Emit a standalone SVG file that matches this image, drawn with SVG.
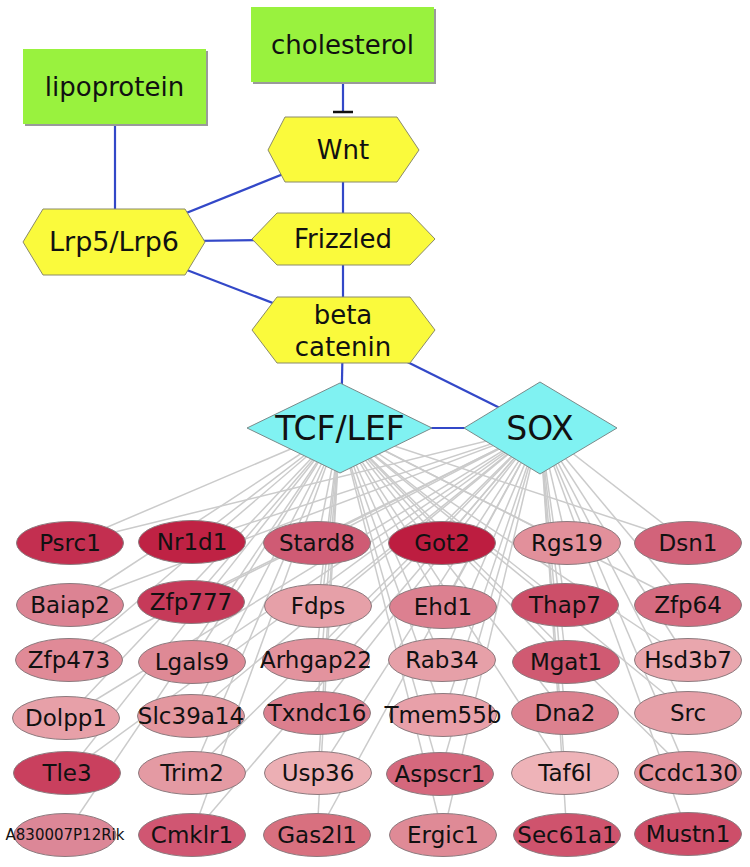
<svg xmlns="http://www.w3.org/2000/svg" width="750" height="867" viewBox="0 0 750 867">
<style>
.g{stroke:#cbcbcb;stroke-width:1.5;fill:none}
.b{stroke:#3348c8;stroke-width:2.2;fill:none}
.rect{fill:#99f23e}
.sh{fill:#9a9a9a}
.hex{fill:#fafa3c;stroke:#8a8a6a;stroke-width:1}
.dia{fill:#80f2f2;stroke:#7a8a8a;stroke-width:1}
.el{stroke:#8c7a7e;stroke-width:1}
text{font-family:"DejaVu Sans","Liberation Sans",sans-serif;fill:#111;text-anchor:middle}
.t23{font-size:23px}
.t26{font-size:26px}
.t33{font-size:33px}
</style>
<rect width="750" height="867" fill="#ffffff"/>
<g id="connectors">
<g id="gray-edges">
<line class="g" x1="340" y1="428" x2="70" y2="543"/><line class="g" x1="540" y1="428" x2="70" y2="543"/>
<line class="g" x1="340" y1="428" x2="192" y2="542"/><line class="g" x1="540" y1="428" x2="192" y2="542"/>
<line class="g" x1="340" y1="428" x2="317" y2="543"/><line class="g" x1="540" y1="428" x2="317" y2="543"/>
<line class="g" x1="340" y1="428" x2="442" y2="543"/><line class="g" x1="540" y1="428" x2="442" y2="543"/>
<line class="g" x1="340" y1="428" x2="567" y2="543"/><line class="g" x1="540" y1="428" x2="567" y2="543"/>
<line class="g" x1="340" y1="428" x2="688" y2="543"/><line class="g" x1="540" y1="428" x2="688" y2="543"/>
<line class="g" x1="340" y1="428" x2="70" y2="605"/><line class="g" x1="540" y1="428" x2="70" y2="605"/>
<line class="g" x1="340" y1="428" x2="191" y2="602"/><line class="g" x1="540" y1="428" x2="191" y2="602"/>
<line class="g" x1="340" y1="428" x2="318" y2="606"/><line class="g" x1="540" y1="428" x2="318" y2="606"/>
<line class="g" x1="340" y1="428" x2="443" y2="607"/><line class="g" x1="540" y1="428" x2="443" y2="607"/>
<line class="g" x1="340" y1="428" x2="565" y2="605"/><line class="g" x1="540" y1="428" x2="565" y2="605"/>
<line class="g" x1="340" y1="428" x2="688" y2="605"/><line class="g" x1="540" y1="428" x2="688" y2="605"/>
<line class="g" x1="340" y1="428" x2="69" y2="660"/><line class="g" x1="540" y1="428" x2="69" y2="660"/>
<line class="g" x1="340" y1="428" x2="192" y2="662"/><line class="g" x1="540" y1="428" x2="192" y2="662"/>
<line class="g" x1="340" y1="428" x2="316" y2="660"/><line class="g" x1="540" y1="428" x2="316" y2="660"/>
<line class="g" x1="340" y1="428" x2="442" y2="660"/><line class="g" x1="540" y1="428" x2="442" y2="660"/>
<line class="g" x1="340" y1="428" x2="566" y2="662"/><line class="g" x1="540" y1="428" x2="566" y2="662"/>
<line class="g" x1="340" y1="428" x2="688" y2="660"/><line class="g" x1="540" y1="428" x2="688" y2="660"/>
<line class="g" x1="340" y1="428" x2="66" y2="718"/><line class="g" x1="540" y1="428" x2="66" y2="718"/>
<line class="g" x1="340" y1="428" x2="191" y2="716"/><line class="g" x1="540" y1="428" x2="191" y2="716"/>
<line class="g" x1="340" y1="428" x2="317" y2="713"/><line class="g" x1="540" y1="428" x2="317" y2="713"/>
<line class="g" x1="340" y1="428" x2="443" y2="715"/><line class="g" x1="540" y1="428" x2="443" y2="715"/>
<line class="g" x1="340" y1="428" x2="565" y2="713"/><line class="g" x1="540" y1="428" x2="565" y2="713"/>
<line class="g" x1="340" y1="428" x2="688" y2="713"/><line class="g" x1="540" y1="428" x2="688" y2="713"/>
<line class="g" x1="340" y1="428" x2="67" y2="773"/><line class="g" x1="540" y1="428" x2="67" y2="773"/>
<line class="g" x1="340" y1="428" x2="192" y2="773"/><line class="g" x1="540" y1="428" x2="192" y2="773"/>
<line class="g" x1="340" y1="428" x2="318" y2="773"/><line class="g" x1="540" y1="428" x2="318" y2="773"/>
<line class="g" x1="340" y1="428" x2="440" y2="774"/><line class="g" x1="540" y1="428" x2="440" y2="774"/>
<line class="g" x1="340" y1="428" x2="565" y2="773"/><line class="g" x1="540" y1="428" x2="565" y2="773"/>
<line class="g" x1="340" y1="428" x2="688" y2="773"/><line class="g" x1="540" y1="428" x2="688" y2="773"/>
<line class="g" x1="340" y1="428" x2="65" y2="835"/>
<line class="g" x1="340" y1="428" x2="192" y2="835"/><line class="g" x1="540" y1="428" x2="192" y2="835"/>
<line class="g" x1="340" y1="428" x2="317" y2="835"/><line class="g" x1="540" y1="428" x2="317" y2="835"/>
<line class="g" x1="340" y1="428" x2="443" y2="835"/><line class="g" x1="540" y1="428" x2="443" y2="835"/>
<line class="g" x1="540" y1="428" x2="567" y2="835"/>
<line class="g" x1="540" y1="428" x2="688" y2="834"/>
</g>
<g id="blue-edges">
<line class="b" x1="115" y1="124" x2="115" y2="209"/>
<line class="b" x1="114" y1="242" x2="343" y2="150"/>
<line class="b" x1="114" y1="242" x2="343" y2="239"/>
<line class="b" x1="114" y1="242" x2="343" y2="330"/>
<line class="b" x1="343" y1="150" x2="343" y2="239"/>
<line class="b" x1="343" y1="239" x2="343" y2="330"/>
<line class="b" x1="343" y1="330" x2="341" y2="428"/>
<line class="b" x1="343" y1="330" x2="540" y2="428"/>
<line class="b" x1="340" y1="428" x2="540" y2="428"/>
<line class="b" x1="343" y1="82" x2="343" y2="112"/>
<line x1="333" y1="112" x2="353" y2="112" stroke="#111" stroke-width="2.5"/>
</g>
</g>
<g id="lipoprotein"><rect class="sh" x="25" y="51" width="183" height="75"/><rect class="rect" x="23" y="49" width="183" height="75"/><text class="t26" x="114.5" y="96">lipoprotein</text></g>
<g id="cholesterol"><rect class="sh" x="253" y="9" width="183" height="75"/><rect class="rect" x="251" y="7" width="183" height="75"/><text class="t26" x="342.5" y="54">cholesterol</text></g>
<g id="Wnt"><polygon class="hex" points="268,150 285,117 397,117 419,150 397,182 285,182"/><text class="t26" x="343" y="159">Wnt</text></g>
<g id="Lrp5Lrp6"><polygon class="hex" points="23,242 43,209 185,209 205,242 185,275 43,275"/><text class="t26" x="114" y="251" style="font-size:27px">Lrp5/Lrp6</text></g>
<g id="Frizzled"><polygon class="hex" points="252,239 277,213 410,213 435,239 410,265 277,265"/><text class="t26" x="343" y="248">Frizzled</text></g>
<g id="betacatenin"><polygon class="hex" points="252,330 277,297 410,297 435,330 410,363 277,363"/><text class="t26" x="343" y="324">beta</text><text class="t26" x="343" y="356">catenin</text></g>
<g id="TCFLEF"><polygon class="dia" points="247,428 340,383 432,428 340,473"/><text class="t33" x="340" y="440">TCF/LEF</text></g>
<g id="SOX"><polygon class="dia" points="464,428 540,382 617,428 540,474"/><text class="t33" x="540" y="440">SOX</text></g>
<g id="Psrc1"><ellipse class="el" cx="70" cy="543" rx="53.5" ry="21.5" fill="#c32f50"/><text class="t23" x="70" y="551">Psrc1</text></g>
<g id="Nr1d1"><ellipse class="el" cx="192" cy="542" rx="53.5" ry="21.5" fill="#bf2244"/><text class="t23" x="192" y="550">Nr1d1</text></g>
<g id="Stard8"><ellipse class="el" cx="317" cy="543" rx="53.5" ry="21.5" fill="#cf5b74"/><text class="t23" x="317" y="551">Stard8</text></g>
<g id="Got2"><ellipse class="el" cx="442" cy="543" rx="53.5" ry="21.5" fill="#bd1d40"/><text class="t23" x="442" y="551">Got2</text></g>
<g id="Rgs19"><ellipse class="el" cx="567" cy="543" rx="53.5" ry="21.5" fill="#e2909b"/><text class="t23" x="567" y="551">Rgs19</text></g>
<g id="Dsn1"><ellipse class="el" cx="688" cy="543" rx="53.5" ry="21.5" fill="#d2637a"/><text class="t23" x="688" y="551">Dsn1</text></g>
<g id="Baiap2"><ellipse class="el" cx="70" cy="605" rx="53.5" ry="21.5" fill="#dc8393"/><text class="t23" x="70" y="613">Baiap2</text></g>
<g id="Zfp777"><ellipse class="el" cx="191" cy="602" rx="53.5" ry="21.5" fill="#c63a59"/><text class="t23" x="191" y="610">Zfp777</text></g>
<g id="Fdps"><ellipse class="el" cx="318" cy="606" rx="53.5" ry="21.5" fill="#e6a0a8"/><text class="t23" x="318" y="614">Fdps</text></g>
<g id="Ehd1"><ellipse class="el" cx="443" cy="607" rx="53.5" ry="21.5" fill="#dc8090"/><text class="t23" x="443" y="615">Ehd1</text></g>
<g id="Thap7"><ellipse class="el" cx="565" cy="605" rx="53.5" ry="21.5" fill="#cc4f69"/><text class="t23" x="565" y="613">Thap7</text></g>
<g id="Zfp64"><ellipse class="el" cx="688" cy="605" rx="53.5" ry="21.5" fill="#d56b80"/><text class="t23" x="688" y="613">Zfp64</text></g>
<g id="Zfp473"><ellipse class="el" cx="69" cy="660" rx="53.5" ry="21.5" fill="#e08a97"/><text class="t23" x="69" y="668">Zfp473</text></g>
<g id="Lgals9"><ellipse class="el" cx="192" cy="662" rx="53.5" ry="21.5" fill="#de8995"/><text class="t23" x="192" y="670">Lgals9</text></g>
<g id="Arhgap22"><ellipse class="el" cx="316" cy="660" rx="53.5" ry="21.5" fill="#e3939e"/><text class="t23" x="316" y="668">Arhgap22</text></g>
<g id="Rab34"><ellipse class="el" cx="442" cy="660" rx="53.5" ry="21.5" fill="#e6a0a8"/><text class="t23" x="442" y="668">Rab34</text></g>
<g id="Mgat1"><ellipse class="el" cx="566" cy="662" rx="53.5" ry="21.5" fill="#d05a72"/><text class="t23" x="566" y="670">Mgat1</text></g>
<g id="Hsd3b7"><ellipse class="el" cx="688" cy="660" rx="53.5" ry="21.5" fill="#e9a6ad"/><text class="t23" x="688" y="668">Hsd3b7</text></g>
<g id="Dolpp1"><ellipse class="el" cx="66" cy="718" rx="53.5" ry="21.5" fill="#e7a0a8"/><text class="t23" x="66" y="726">Dolpp1</text></g>
<g id="Slc39a14"><ellipse class="el" cx="191" cy="716" rx="53.5" ry="21.5" fill="#e3979f"/><text class="t23" x="191" y="724">Slc39a14</text></g>
<g id="Txndc16"><ellipse class="el" cx="317" cy="713" rx="53.5" ry="21.5" fill="#dc7f8e"/><text class="t23" x="317" y="721">Txndc16</text></g>
<g id="Tmem55b"><ellipse class="el" cx="443" cy="715" rx="53.5" ry="21.5" fill="#e8a0a9"/><text class="t23" x="443" y="723">Tmem55b</text></g>
<g id="Dna2"><ellipse class="el" cx="565" cy="713" rx="53.5" ry="21.5" fill="#dc818f"/><text class="t23" x="565" y="721">Dna2</text></g>
<g id="Src"><ellipse class="el" cx="688" cy="713" rx="53.5" ry="21.5" fill="#e6a0a8"/><text class="t23" x="688" y="721">Src</text></g>
<g id="Tle3"><ellipse class="el" cx="67" cy="773" rx="53.5" ry="21.5" fill="#c9405e"/><text class="t23" x="67" y="781">Tle3</text></g>
<g id="Trim2"><ellipse class="el" cx="192" cy="773" rx="53.5" ry="21.5" fill="#e49aa3"/><text class="t23" x="192" y="781">Trim2</text></g>
<g id="Usp36"><ellipse class="el" cx="318" cy="773" rx="53.5" ry="21.5" fill="#ecafb4"/><text class="t23" x="318" y="781">Usp36</text></g>
<g id="Aspscr1"><ellipse class="el" cx="440" cy="774" rx="53.5" ry="21.5" fill="#d5687d"/><text class="t23" x="440" y="782">Aspscr1</text></g>
<g id="Taf6l"><ellipse class="el" cx="565" cy="773" rx="53.5" ry="21.5" fill="#eeb3b8"/><text class="t23" x="565" y="781">Taf6l</text></g>
<g id="Ccdc130"><ellipse class="el" cx="688" cy="773" rx="53.5" ry="21.5" fill="#e2919c"/><text class="t23" x="688" y="781">Ccdc130</text></g>
<g id="A830007P12Rik"><ellipse class="el" cx="65" cy="835" rx="51" ry="21.5" fill="#dc8797"/><text x="65" y="840" style="font-size:15px">A830007P12Rik</text></g>
<g id="Cmklr1"><ellipse class="el" cx="192" cy="835" rx="53.5" ry="21.5" fill="#d05672"/><text class="t23" x="192" y="843">Cmklr1</text></g>
<g id="Gas2l1"><ellipse class="el" cx="317" cy="835" rx="53.5" ry="21.5" fill="#d8707f"/><text class="t23" x="317" y="843">Gas2l1</text></g>
<g id="Ergic1"><ellipse class="el" cx="443" cy="835" rx="53.5" ry="21.5" fill="#df8a96"/><text class="t23" x="443" y="843">Ergic1</text></g>
<g id="Sec61a1"><ellipse class="el" cx="567" cy="835" rx="53.5" ry="21.5" fill="#cf536d"/><text class="t23" x="567" y="843">Sec61a1</text></g>
<g id="Mustn1"><ellipse class="el" cx="688" cy="834" rx="53.5" ry="21.5" fill="#cd4e69"/><text class="t23" x="688" y="842">Mustn1</text></g>
</svg>
